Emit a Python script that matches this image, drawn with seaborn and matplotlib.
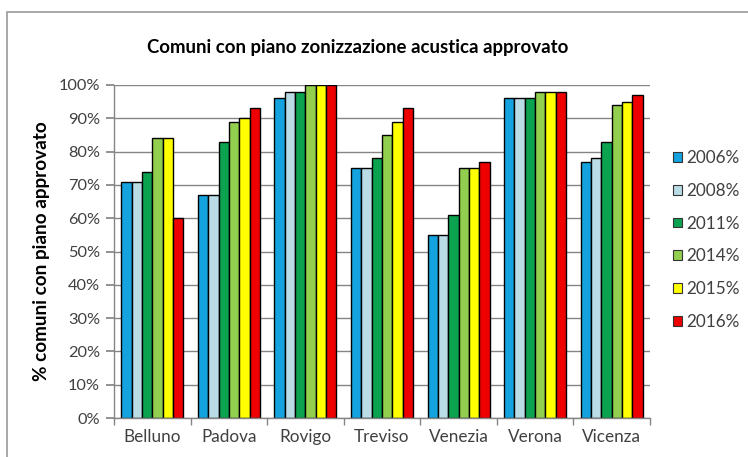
import matplotlib
matplotlib.use("Agg")
import matplotlib.pyplot as plt
from matplotlib.patches import Rectangle
from matplotlib.ticker import FixedLocator, PercentFormatter
import seaborn as sns
import pandas as pd

provinces = ["Belluno", "Padova", "Rovigo", "Treviso", "Venezia", "Verona", "Vicenza"]
years = ["2006%", "2008%", "2011%", "2014%", "2015%", "2016%"]
v2006 = [71, 67, 96, 75, 55, 96, 77]
v2008 = [71, 67, 98, 75, 55, 96, 78]
v2011 = [74, 83, 98, 78, 61, 96, 83]
v2014 = [84, 89, 100, 85, 75, 98, 94]
v2015 = [84, 90, 100, 89, 75, 98, 95]
v2016 = [60, 93, 100, 93, 77, 98, 97]
colors = ["#14A3DE", "#B9DCE6", "#0BA350", "#92CF4E", "#FFFF00", "#EE0000"]

series = [v2006, v2008, v2011, v2014, v2015, v2016]
df = pd.DataFrame(
    [(p, y, s[i]) for y, s in zip(years, series) for i, p in enumerate(provinces)],
    columns=["provincia", "anno", "valore"],
)

sns.set_theme(style="white")
plt.rcParams["font.family"] = ["Lato", "DejaVu Sans"]

fig = plt.figure(figsize=(7.48, 4.57), dpi=100)
ax = fig.add_axes([114 / 748, 1 - 418 / 457, (650 - 114) / 748, (418 - 85) / 457])

sns.barplot(
    data=df, x="provincia", y="valore", hue="anno", order=provinces,
    hue_order=years, palette=colors, width=0.81, edgecolor="black",
    linewidth=1.0, saturation=1, ax=ax, legend=False,
)

ax.set_ylim(0, 100)
ax.set_xlim(-0.5, len(provinces) - 0.5)
ax.yaxis.set_major_locator(FixedLocator(range(0, 101, 10)))
ax.yaxis.set_major_formatter(PercentFormatter(decimals=0))
ax.grid(axis="y", color="#858585", linewidth=1.0)
ax.set_axisbelow(True)
for side in ["top", "right"]:
    ax.spines[side].set_visible(False)
for side in ["left", "bottom"]:
    ax.spines[side].set_color("#858585")
    ax.spines[side].set_linewidth(1.0)

ax.tick_params(axis="y", which="major", left=True, length=6, color="#858585",
               labelsize=11.8, labelcolor="#404040", pad=4)
ax.tick_params(axis="x", which="major", length=0, labelsize=12.3,
               labelcolor="#404040", pad=8)
ax.xaxis.set_minor_locator(FixedLocator([i - 0.5 for i in range(len(provinces) + 1)]))
ax.tick_params(axis="x", which="minor", bottom=True, length=5, color="#858585")
ax.set_xlabel("")
ax.set_ylabel("% comuni con piano approvato", fontsize=13.6, fontweight="bold",
              color="black", labelpad=6.5)

fig.text(358 / 748, 1 - 48 / 457, "Comuni con piano zonizzazione acustica approvato",
         ha="center", va="center", fontsize=13.4, fontweight="bold", color="black")

# outer chart frame
fig.patches.append(Rectangle((7 / 748, -0.05), 1.1, 1 - 12 / 457 + 0.05,
                             transform=fig.transFigure, fill=False,
                             edgecolor="#9a9a9a", linewidth=1.2))

# legend with square markers
handles = [Rectangle((0, 0), 1, 1, facecolor=c, edgecolor="#333333", linewidth=0.8)
           for c in colors]
leg = fig.legend(handles, years, loc="center left",
                 bbox_to_anchor=(673 / 748, 1 - 240 / 457), frameon=False,
                 fontsize=12.3, handlelength=0.5, handleheight=0.5,
                 handletextpad=0.3, labelspacing=0.98, borderpad=0, borderaxespad=0)
for t in leg.get_texts():
    t.set_color("#404040")

fig.savefig("out.png", dpi=100)
